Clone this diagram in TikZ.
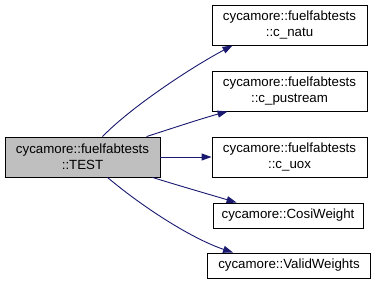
\documentclass[tikz,border=0pt]{standalone}
\usepackage{fontspec}
\setmainfont{Liberation Sans}
\usetikzlibrary{arrows.meta}
\definecolor{edgeblue}{HTML}{191970}
\definecolor{rootgray}{HTML}{BFBFBF}
\begin{document}
\begin{tikzpicture}[x=1pt,y=-1pt,
  fn/.style={draw=black, line width=0.9pt, fill=white, inner sep=0pt,
    align=center, font=\fontsize{13.3}{16}\selectfont, minimum height=40pt},
  fnone/.style={fn, minimum height=25pt},
  root/.style={fn, fill=rootgray},
  call/.style={draw=edgeblue, line width=0.9pt,
    -{Triangle[length=10pt,width=7pt,fill=edgeblue]}}]
\useasboundingbox (0,0) rectangle (377,285);

% caller
\node[root, minimum width=155pt] (test) at (82.5,157) {cycamore::fuelfabtests\\::TEST};

% callees
\node[fn, minimum width=155pt] (natu) at (289.5,25) {cycamore::fuelfabtests\\::c\_natu};
\node[fn, minimum width=155pt] (pust) at (289.5,91) {cycamore::fuelfabtests\\::c\_pustream};
\node[fn, minimum width=155pt] (uox) at (289.5,157) {cycamore::fuelfabtests\\::c\_uox};
\node[fnone, minimum width=150pt] (cosi) at (288,215.5) {cycamore::CosiWeight};
\node[fnone, minimum width=163pt] (valid) at (289,265.5) {cycamore::ValidWeights};

% call edges
\draw[call] ([xshift=98pt]test.north west) .. controls (130,108) and (190,68) .. ([xshift=21pt]natu.south west);
\draw[call] ([xshift=142pt]test.north west) .. controls (170,129) and (200,119) .. ([xshift=16pt]pust.south west);
\draw[call] (test.east) -- (uox.west);
\draw[call] ([xshift=148pt]test.south west) .. controls (180,186) and (208,194) .. ([xshift=24pt]cosi.north west);
\draw[call] ([xshift=103pt]test.south west) .. controls (140,205) and (190,238) .. ([xshift=26pt]valid.north west);
\end{tikzpicture}
\end{document}
